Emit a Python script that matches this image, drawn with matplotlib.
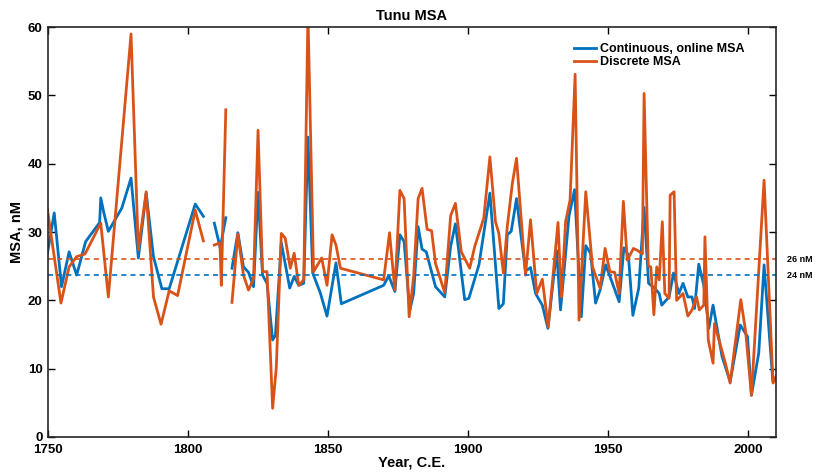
import numpy as np
import matplotlib
matplotlib.use("Agg")
import matplotlib.pyplot as plt

plt.rcParams['font.family'] = ['Liberation Sans', 'DejaVu Sans']
plt.rcParams['font.weight'] = 'bold'

nan = np.nan

# continuous, online MSA (nM)
cont_year = [1750, 1752.4, 1755, 1757.7, 1760.4, 1763.6, 1768.6, 1769, 1770, 1771.7,
             1776.5, 1779.8, 1782.4, 1785.2, 1787.8, 1790.8, 1793.4, 1802.7, 1805.6, 1807.5,
             1809.5, 1811.6, 1813.6, 1814.7, 1815.8, 1817.9, 1819.9, 1821.7, 1823.5, 1825.1,
             1826.7, 1828.3, 1830.3, 1831.3, 1833.4, 1836.4, 1838, 1839.6, 1841.4, 1842.9,
             1844.6, 1847.3, 1849.7, 1852.9, 1854.8, 1869.9, 1871.7, 1873.9, 1875.7, 1877.2,
             1879.2, 1880.6, 1882.2, 1883.6, 1885.1, 1888.4, 1891.7, 1893.8, 1895.5, 1898.8,
             1900.3, 1903.9, 1907.8, 1911, 1912.6, 1914, 1915.4, 1917.3, 1918.8, 1920.5,
             1922.3, 1924.1, 1926.5, 1928.5, 1931.6, 1933, 1936, 1938, 1940.4, 1942,
             1943.7, 1945.5, 1947.1, 1949.1, 1950.9, 1953.9, 1955.6, 1957.2, 1958.8, 1960.9,
             1962.8, 1964.4, 1966.5, 1968.2, 1969.1, 1971.7, 1973.3, 1975.2, 1976.7, 1978.4,
             1979.9, 1980.8, 1982.3, 1984.1, 1985.9, 1987.4, 1990.6, 1993.5, 1997.1, 1999.7,
             2001.1, 2003.7, 2005.6, 2008.7]
cont_msa = [26.9, 32.8, 22.0, 27.1, 23.7, 28.6, 31.4, 35.0, 33.0, 30.1,
            33.5, 37.9, 26.2, 35.7, 26.4, 21.7, 21.7, 34.1, 32.3, nan,
            31.3, 27.7, 32.1, nan, 24.7, 29.9, 24.9, 24.1, 22.0, 35.8,
            23.7, 22.5, 14.2, 14.9, 28.4, 21.8, 23.5, 22.2, 22.5, 43.9,
            24.0, 21.1, 17.7, 25.5, 19.5, 22.2, 23.6, 21.3, 29.6, 28.6,
            18.5, 21.0, 30.8, 27.5, 27.1, 22.0, 20.5, 27.9, 31.2, 20.1,
            20.3, 25.2, 35.7, 18.8, 19.5, 29.6, 30.1, 34.9, 29.8, 24.3,
            24.8, 21.0, 19.3, 15.9, 27.3, 18.6, 32.3, 36.2, 17.6, 28.0,
            26.9, 19.6, 21.5, 25.2, 23.2, 19.8, 27.7, 26.6, 17.8, 21.8,
            33.6, 22.5, 21.8, 21.0, 19.3, 20.5, 24.0, 21.0, 22.5, 20.5,
            20.5, 18.8, 25.3, 22.2, 15.9, 19.3, 11.8, 8.1, 16.4, 14.7,
            6.1, 12.3, 25.2, 8.3]

# discrete MSA (nM)
disc_year = [1750, 1754.8, 1757.7, 1760.4, 1763.4, 1769, 1771.7, 1779.8, 1782.4, 1785.2,
             1787.8, 1790.5, 1793.4, 1796.4, 1802.7, 1805.6, 1807.5, 1809.5, 1811.5, 1812,
             1813.6, 1814.7, 1815.8, 1817.9, 1819.9, 1821.7, 1823.5, 1825.1, 1826.7, 1828.3,
             1830.3, 1831.6, 1833.4, 1834.8, 1836.6, 1838, 1839.6, 1841.4, 1842.9, 1844.9,
             1847.8, 1849.7, 1851.5, 1852.9, 1854.5, 1869.9, 1872, 1873.9, 1875.7, 1877.2,
             1879, 1880.6, 1882.2, 1883.6, 1885.4, 1887, 1888.4, 1891.7, 1893.8, 1895.5,
             1897.6, 1900.6, 1902.4, 1905.6, 1907.8, 1909.8, 1911, 1912.6, 1914, 1915.8,
             1917.3, 1918.8, 1920.5, 1922.3, 1924.5, 1926.5, 1928.6, 1932.1, 1933.3, 1934.8,
             1936.4, 1938.2, 1939.6, 1942, 1944.4, 1947.1, 1948.9, 1950.6, 1952.3, 1953.9,
             1955.4, 1956.8, 1959, 1960.5, 1962.2, 1962.8, 1964.3, 1965.2, 1966.3, 1967.3,
             1968.2, 1969.3, 1970.2, 1971.7, 1972.1, 1973.5, 1974.4, 1976.7, 1978.4, 1979.9,
             1981.5, 1982.5, 1984.1, 1984.5, 1985.7, 1987.4, 1987.9, 1991.8, 1993.5, 1997.3,
             1999, 2001.1, 2005.6, 2008.8, 2010]
disc_msa = [33.2, 19.6, 24.9, 26.4, 26.8, 31.3, 20.5, 59.0, 27.4, 35.9,
            20.5, 16.5, 21.4, 20.7, 33.2, 28.7, nan, 28.1, 28.4, 22.2,
            47.9, nan, 19.7, 29.7, 23.7, 21.5, 23.2, 44.9, 24.2, 24.2,
            4.2, 10.1, 29.8, 29.1, 24.7, 26.9, 22.2, 23.0, 62.0, 24.2,
            26.2, 22.2, 29.6, 28.1, 24.7, 23.0, 29.9, 21.5, 36.1, 34.9,
            17.6, 23.5, 34.9, 36.4, 30.4, 30.2, 25.4, 21.1, 32.4, 34.2,
            27.1, 24.7, 27.9, 32.0, 41.0, 31.5, 29.8, 24.0, 30.8, 37.1,
            40.8, 32.8, 23.7, 31.8, 21.0, 23.1, 16.1, 31.4, 20.5, 31.5,
            34.7, 53.1, 17.1, 35.9, 24.9, 21.8, 27.6, 24.2, 24.1, 21.0,
            34.5, 25.9, 27.6, 27.3, 26.8, 50.3, 25.0, 24.9, 17.9, 24.9,
            23.0, 31.5, 21.0, 20.3, 35.4, 35.9, 20.0, 21.0, 17.7, 18.6,
            20.5, 18.6, 19.3, 29.3, 14.2, 10.8, 16.6, 10.8, 7.9, 20.1,
            15.5, 6.1, 37.6, 7.9, 9.0]

disc_mean = 26.0
cont_mean = 23.7

blue = '#0072BD'
orange = '#D95319'

fig = plt.figure(figsize=(8.19, 4.76), dpi=100)
ax = fig.add_axes([0.058, 0.082, 0.890, 0.861])

ax.plot(cont_year, cont_msa, color=blue, lw=2, label='Continuous, online MSA')
ax.plot(disc_year, disc_msa, color=orange, lw=2, label='Discrete MSA')
ax.axhline(disc_mean, color=orange, lw=1.2, ls=(0, (3, 2.5)))
ax.axhline(cont_mean, color=blue, lw=1.2, ls=(0, (3, 2.5)))

ax.set_xlim(1750, 2010)
ax.set_ylim(0, 60)
ax.set_xticks(range(1750, 2001, 50))
ax.set_yticks(range(0, 61, 10))
ax.tick_params(direction='in', top=True, right=True, labelsize=9.5, length=5, width=1)
ax.tick_params(axis='x', pad=5)
for s in ax.spines.values():
    s.set_linewidth(1.2)
    s.set_color('#262626')

ax.set_title('Tunu MSA', fontsize=10.5, fontweight='bold', pad=5)
ax.set_xlabel('Year, C.E.', fontsize=10.5, fontweight='bold', labelpad=0)
ax.set_ylabel('MSA, nM', fontsize=10.5, fontweight='bold', labelpad=3)

ax.text(1.015, disc_mean, '26 nM', transform=ax.get_yaxis_transform(),
        fontsize=6.5, fontweight='bold', va='center', ha='left')
ax.text(1.015, cont_mean, '24 nM', transform=ax.get_yaxis_transform(),
        fontsize=6.5, fontweight='bold', va='center', ha='left')

leg = ax.legend(loc='upper right', bbox_to_anchor=(0.97, 0.985), frameon=False,
                fontsize=9, handlelength=1.8, handletextpad=0.3, labelspacing=0.05,
                borderpad=0.3)
for t in leg.get_texts():
    t.set_fontweight('bold')

fig.savefig('out.png', dpi=100)
